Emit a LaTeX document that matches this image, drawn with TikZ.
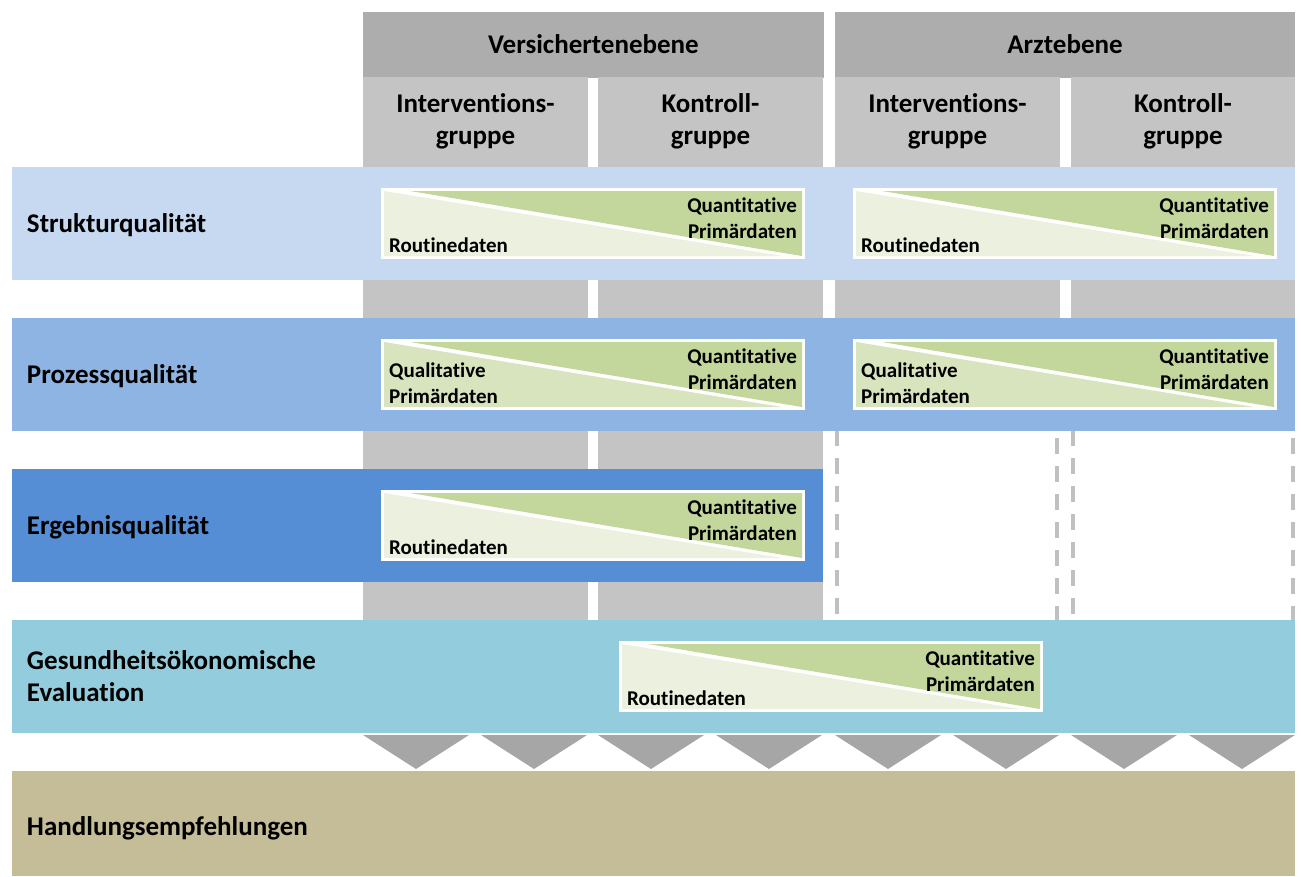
\documentclass[tikz,border=0pt]{standalone}
\usepackage{fontspec}
\setmainfont{Carlito}[Ligatures=NoCommon]
\usetikzlibrary{calc}
\definecolor{hdark}{HTML}{ADADAD}
\definecolor{hcol}{HTML}{C4C4C4}
\definecolor{dashc}{HTML}{C0C0C0}
\definecolor{tric}{HTML}{A6A6A6}
\definecolor{cstruk}{HTML}{C6D9F1}
\definecolor{cproz}{HTML}{8EB4E3}
\definecolor{cergeb}{HTML}{558ED5}
\definecolor{cgesund}{HTML}{93CDDD}
\definecolor{chandl}{HTML}{C4BD97}
\definecolor{qlight}{HTML}{EBF1DE}
\definecolor{qlighttwo}{HTML}{D7E4BD}
\definecolor{qgreen}{HTML}{C3D69B}
\newcommand{\qbox}[5]{%
  \node[qboxst] (#1) at (#2,#3) {};
  \fill[#4] ($(#1.north west)+(1.5,1.5)$) -- ($(#1.south west)+(1.5,-1.5)$) -- ($(#1.south east)+(-21.5,-1.5)$) -- cycle;
  \fill[qgreen] ($(#1.north west)+(27.5,1.5)$) -- ($(#1.north east)+(-1.5,1.5)$) -- ($(#1.south east)+(-1.5,-1.5)$) -- cycle;
  \node[qtext, align=right, anchor=north east] (#1q) at ($(#1.north east)+(-6.5,8)$) {Quantitative\\Primärdaten};
  \node[qtext, align=left, anchor=south west] (#1r) at ($(#1.south west)+(6.5,-5)$) {#5};
}
\begin{document}
\begin{tikzpicture}[x=1pt,y=-1pt,
  bigfont/.style={font=\fontsize{27}{32}\selectfont\bfseries},
  headst/.style={rectangle, fill=hdark, inner sep=0, outer sep=0, bigfont, minimum height=66pt},
  colst/.style={rectangle, fill=hcol, inner sep=0, outer sep=0},
  dashst/.style={rectangle, draw=dashc, line width=4pt, dash pattern=on 16pt off 12pt, inner sep=0, outer sep=0},
  htext/.style={bigfont, align=center, inner sep=0},
  bandst/.style={rectangle, inner sep=0, inner xsep=15pt, outer sep=0, bigfont, align=left, minimum height=113pt},
  bandone/.style={bandst, text depth=0pt},
  qboxst/.style={rectangle, draw=white, fill=white, line width=3pt, minimum width=421pt, minimum height=68pt, inner sep=0, outer sep=0},
  qtext/.style={font=\fontsize{21}{26}\selectfont\bfseries, inner sep=0},
  trist/.style={fill=tric}
]
\useasboundingbox (0,0) rectangle (1301,876);
% headers
\node[headst, minimum width=461pt] (vh) at (593.5,44.5) {Versichertenebene};
\node[headst, minimum width=460pt] (ah) at (1065,44.5) {Arztebene};
% columns
\node[colst, minimum width=225pt, minimum height=543pt] (vi) at (475.5,348.5) {};
\node[colst, minimum width=225pt, minimum height=543pt] (vk) at (710.5,348.5) {};
\node[colst, minimum width=225pt, minimum height=354pt] (ai) at (947.5,254) {};
\node[colst, minimum width=224pt, minimum height=354pt] (ak) at (1183,254) {};
\node[dashst, minimum width=220pt, minimum height=200pt] (aid) at (947,525.5) {};
\node[dashst, minimum width=220pt, minimum height=200pt] (akd) at (1183,525.5) {};
% column titles
\node[htext] (vit) at (475.5,121) {Interventions-\\gruppe};
\node[htext] (vkt) at (710.5,121) {Kontroll-\\gruppe};
\node[htext] (ait) at (947.5,121) {Interventions-\\gruppe};
\node[htext] (akt) at (1183,121) {Kontroll-\\gruppe};
% bands
\node[bandone, fill=cstruk, minimum width=1283pt, text width=1253pt] (bs) at (653.5,223.5) {Strukturqualität};
\node[bandone, fill=cproz, minimum width=1283pt, text width=1253pt] (bp) at (653.5,374.5) {Prozessqualität};
\node[bandone, fill=cergeb, minimum width=811pt, text width=781pt] (be) at (417.5,525.5) {Ergebnisqualität};
\node[bandst, fill=cgesund, minimum width=1283pt, text width=1253pt] (bg) at (653.5,676.5) {Gesundheitsökonomische\\Evaluation};
\node[bandone, fill=chandl, minimum width=1283pt, text width=1253pt, minimum height=105pt] (bh) at (653.5,823.5) {\raisebox{-5pt}{Handlungsempfehlungen}};
% data boxes
\qbox{sa}{593}{223.5}{qlight}{Routinedaten}
\qbox{sb}{1065}{223.5}{qlight}{Routinedaten}
\qbox{pa}{593}{374.5}{qlighttwo}{Qualitative\\Primärdaten}
\qbox{pb}{1065}{374.5}{qlighttwo}{Qualitative\\Primärdaten}
\qbox{ea}{593}{525.5}{qlight}{Routinedaten}
\qbox{ga}{831}{676.5}{qlight}{Routinedaten}
% triangles
\foreach \L in {363,598,835,1071}{
  \fill[trist] (\L,735) -- (\L+106,735) -- (\L+53,769) -- cycle;
  \fill[trist] (\L+118,735) -- (\L+224,735) -- (\L+171,769) -- cycle;
}
\end{tikzpicture}
\end{document}
